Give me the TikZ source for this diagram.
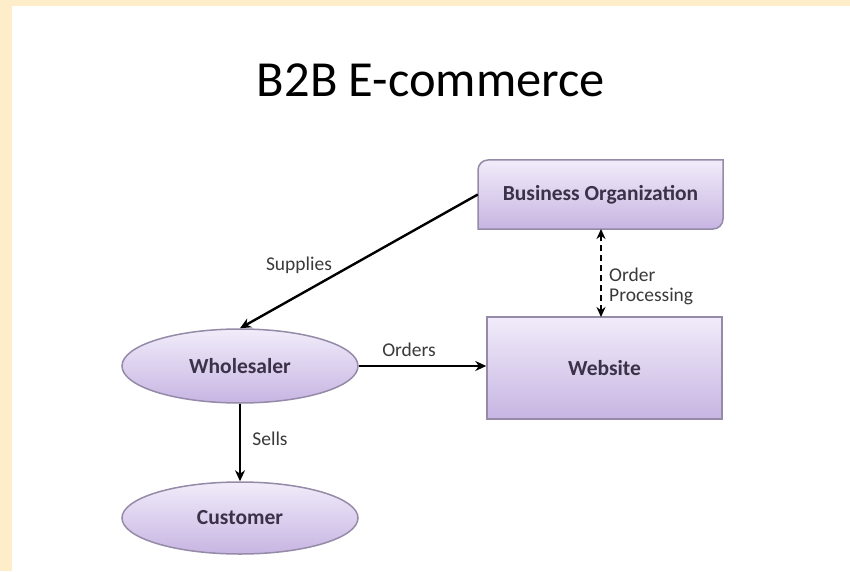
\documentclass[tikz,border=0pt]{standalone}
\usepackage{fontspec}
\setmainfont{Carlito}
\usetikzlibrary{arrows.meta,shapes.geometric}
\definecolor{cream}{HTML}{FDEEC9}
\definecolor{boxtop}{HTML}{F1ECFA}
\definecolor{boxbot}{HTML}{C7B5E2}
\definecolor{boxline}{HTML}{958BA8}
\definecolor{nodetext}{HTML}{3B3148}
\definecolor{labtext}{HTML}{3A3A3A}
\tikzset{
  shapefill/.style={top color=boxtop,bottom color=boxbot,draw=boxline,line width=1.5pt},
  nodelabel/.style={font=\fontsize{21.5}{25}\selectfont\bfseries,text=nodetext,inner sep=0pt},
  edgelabel/.style={font=\fontsize{19.5}{23}\selectfont,text=labtext,inner sep=0pt},
  conn/.style={line width=2.4pt,-{Stealth[length=11pt,width=10pt]}},
  dconn/.style={line width=2.6pt,dash pattern=on 6pt off 4pt,{Stealth[length=10pt,width=9pt]}-{Stealth[length=10pt,width=9pt]}}
}
\begin{document}
\begin{tikzpicture}[x=1pt,y=1pt]
\useasboundingbox (0,0) rectangle (850,571);
\fill[cream] (0,0) rectangle (850,571);
\fill[white] (12,0) rectangle (850,565);
% title
\node[font=\fontsize{50.5}{60}\selectfont,inner sep=0pt] (title) at (431,491) {B2B E-commerce};
% Business Organization box (round diagonal corners)
\path[shapefill] (488,411) -- (723,411) -- (723,352) arc[start angle=0,end angle=-90,radius=10] -- (478,342) -- (478,401) arc[start angle=180,end angle=90,radius=10] -- cycle;
\node[nodelabel,rectangle,minimum width=245pt,minimum height=69pt] (bo) at (600.5,376.5) {Business Organization};
% Website
\node[shapefill,nodelabel,rectangle,minimum width=235pt,minimum height=102pt] (web) at (604.5,203) {Website};
% Wholesaler
\node[shapefill,nodelabel,ellipse,minimum width=236pt,minimum height=74pt] (wh) at (240,205) {Wholesaler};
% Customer
\node[shapefill,nodelabel,ellipse,minimum width=236pt,minimum height=72pt] (cu) at (240,53) {Customer};
% connectors
\draw[conn] (bo.west) -- (wh.north);
\draw[conn] (wh.east) -- (web.west |- wh.east);
\draw[conn] (wh.south) -- (cu.north);
\coordinate (optop) at (601,342);
\coordinate (opbot) at (601,254);
\draw[dconn] (optop) -- (opbot);
% labels
\node[edgelabel] (lsup) at (299,306) {Supplies};
\node[edgelabel] (lord) at (409,221) {Orders};
\node[edgelabel] (lsel) at (270,132) {Sells};
\node[edgelabel,align=left,anchor=west,font=\fontsize{19.5}{20}\selectfont] (lop) at (609,285) {Order\\Processing};
\end{tikzpicture}
\end{document}
